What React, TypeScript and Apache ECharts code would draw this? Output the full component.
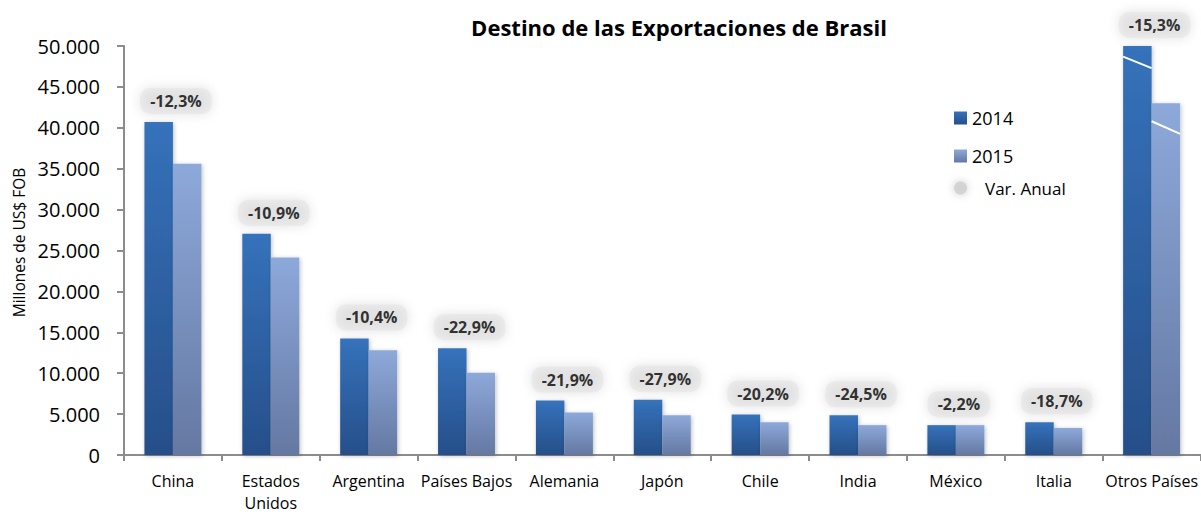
import React, { useEffect, useRef } from "react";
import * as echarts from "echarts";

const categories = [
  "China",
  "Estados\nUnidos",
  "Argentina",
  "Países Bajos",
  "Alemania",
  "Japón",
  "Chile",
  "India",
  "México",
  "Italia",
  "Otros Países",
];
const values2014 = [40700, 27050, 14250, 13050, 6650, 6750, 4950, 4850, 3650, 4000, 50000];
const values2015 = [35600, 24150, 12800, 10050, 5200, 4850, 4000, 3650, 3650, 3300, 43000];
const varAnual = ["-12,3%", "-10,9%", "-10,4%", "-22,9%", "-21,9%", "-27,9%", "-20,2%", "-24,5%", "-2,2%", "-18,7%", "-15,3%"];
// axis-break marks on the "Otros Países" bars: [category index, start value, end value, bar (0=2014,1=2015)]
const breakMarks = [
  [10, 48700, 47300, 0],
  [10, 40800, 39250, 1],
];

const FONT = "'Open Sans', Lato, sans-serif";
const BAR_W = 28.5;

export default function App() {
  const ref = useRef<HTMLDivElement>(null);
  useEffect(() => {
    if (!ref.current) return;
    const chart = echarts.init(ref.current, undefined, { renderer: "svg" });
    const grad = (a: string, b: string) =>
      new echarts.graphic.LinearGradient(0, 0, 0, 1, [
        { offset: 0, color: a },
        { offset: 1, color: b },
      ]);
    chart.setOption({
      animation: false,
      backgroundColor: "#fff",
      textStyle: { fontFamily: FONT },
      title: {
        text: "Destino de las Exportaciones de Brasil",
        left: 679,
        textAlign: "center",
        top: 13,
        padding: 0,
        textStyle: { fontFamily: FONT, fontSize: 22, fontWeight: "bold", color: "#000", lineHeight: 28 },
      },
      legend: [
        {
          data: ["2014"],
          left: 954,
          top: 108,
          padding: 0,
          icon: "rect",
          itemWidth: 13,
          itemHeight: 13,
          textStyle: { fontFamily: FONT, fontSize: 18, color: "#000", lineHeight: 20 },
        },
        {
          data: ["2015"],
          left: 954,
          top: 146,
          padding: 0,
          icon: "rect",
          itemWidth: 13,
          itemHeight: 13,
          textStyle: { fontFamily: FONT, fontSize: 18, color: "#000", lineHeight: 20 },
        },
        {
          data: [
            {
              name: "Var. Anual",
              icon: "circle",
              itemStyle: { color: "#cfcfcf", shadowBlur: 8, shadowColor: "#bdbdbd" },
            },
          ],
          left: 954,
          top: 179,
          padding: 0,
          itemWidth: 13,
          itemHeight: 13,
          textStyle: { fontFamily: FONT, fontSize: 17, color: "#000", lineHeight: 18, padding: [0, 0, 0, 13] },
        },
      ],
      grid: { left: 124, right: -1, top: 46, height: 414, containLabel: false },
      xAxis: {
        type: "category",
        data: categories,
        axisLine: { lineStyle: { color: "#8c8c8c", width: 2 } },
        axisTick: { show: true, length: 6, lineStyle: { color: "#8c8c8c", width: 2 } },
        axisLabel: {
          interval: 0,
          fontFamily: FONT,
          fontSize: 16,
          color: "#000",
          margin: 15,
          lineHeight: 22,
        },
      },
      yAxis: {
        type: "value",
        min: 0,
        max: 50000,
        interval: 5000,
        name: "Millones de US$ FOB",
        nameLocation: "middle",
        nameRotate: 90,
        nameGap: 97,
        nameTextStyle: { fontFamily: FONT, fontSize: 15.5, color: "#000", padding: [0, 0, 0, 16] },
        axisLine: { show: true, lineStyle: { color: "#8c8c8c", width: 2 } },
        axisTick: { show: true, length: 7, lineStyle: { color: "#8c8c8c", width: 2 } },
        splitLine: { show: false },
        axisLabel: {
          fontFamily: FONT,
          fontSize: 20,
          color: "#000",
          margin: 24,
          formatter: (v: number) => v.toString().replace(/\B(?=(\d{3})+(?!\d))/g, "."),
        },
      },
      series: [
        {
          name: "2014",
          type: "bar",
          data: values2014,
          barWidth: BAR_W,
          barGap: "0%",
          itemStyle: {
            color: grad("#3572BB", "#264F89"),
            shadowBlur: 4,
            shadowColor: "rgba(0,0,0,0.25)",
            shadowOffsetX: 1,
            shadowOffsetY: 1,
          },
        },
        {
          name: "2015",
          type: "bar",
          data: values2015,
          barWidth: BAR_W,
          barGap: "0%",
          itemStyle: {
            color: grad("#8DA9DA", "#6478A2"),
            shadowBlur: 4,
            shadowColor: "rgba(0,0,0,0.25)",
            shadowOffsetX: 1,
            shadowOffsetY: 1,
          },
        },
        {
          name: "Var. Anual",
          type: "scatter",
          data: values2014,
          symbolSize: 0,
          itemStyle: { color: "#d4d4d4" },
          z: 5,
          label: {
            show: true,
            position: "top",
            distance: 8,
            offset: [3, 0],
            formatter: (p: any) => varAnual[p.dataIndex],
            fontFamily: FONT,
            fontSize: 16,
            fontWeight: "bold",
            color: "#000",
            lineHeight: 18,
            padding: [4, 10],
            backgroundColor: "rgba(222,222,222,0.55)",
            borderRadius: 10,
            shadowBlur: 12,
            shadowColor: "rgba(190,190,190,1)",
          },
        },
        {
          type: "custom",
          data: breakMarks,
          z: 10,
          silent: true,
          renderItem: (_params: any, api: any) => {
            const c = api.value(0);
            const p1 = api.coord([c, api.value(1)]);
            const p2 = api.coord([c, api.value(2)]);
            const x0 = api.value(3) === 0 ? p1[0] - BAR_W : p1[0];
            return {
              type: "line",
              shape: { x1: x0, y1: p1[1], x2: x0 + BAR_W, y2: p2[1] },
              style: { stroke: "#fff", lineWidth: 2 },
            };
          },
        },
      ],
    });
    return () => chart.dispose();
  }, []);
  return (
    <div
      ref={ref}
      style={{ position: "fixed", left: 0, top: 0, width: 1201, height: 514 }}
    />
  );
}
